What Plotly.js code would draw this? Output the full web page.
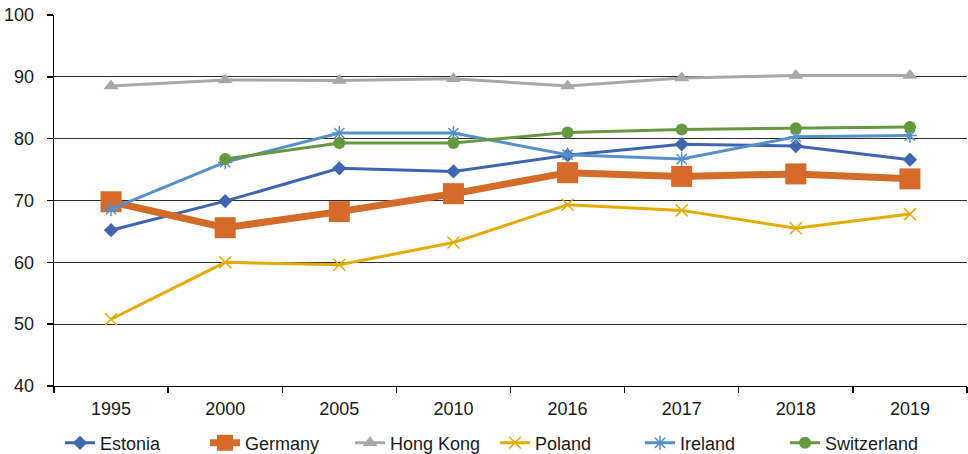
<!DOCTYPE html>
<html>
<head>
<meta charset="utf-8">
<script src="https://cdn.plot.ly/plotly-3.0.1.min.js"></script>
<style>
  html, body { margin: 0; padding: 0; background: #ffffff; }
  #chart { width: 968px; height: 454px; }
</style>
</head>
<body>
<div id="chart"></div>
<script>
// Survey years shown on the category axis
const years = ["1995", "2000", "2005", "2010", "2016", "2017", "2018", "2019"];

// Index values per country
const estonia     = [65.2, 69.9, 75.2, 74.7, 77.3, 79.1, 78.8, 76.6];
const germany     = [69.8, 65.6, 68.2, 71.1, 74.5, 73.9, 74.3, 73.5];
const hongKong    = [88.5, 89.5, 89.4, 89.7, 88.5, 89.8, 90.2, 90.2];
const poland      = [50.8, 60.0, 59.6, 63.2, 69.3, 68.4, 65.5, 67.8];
const ireland     = [68.6, 76.2, 80.9, 80.9, 77.4, 76.7, 80.3, 80.5];
const switzerland = [null, 76.7, 79.3, 79.3, 81.0, 81.5, 81.7, 81.9];

const FONT = "Liberation Sans, Arial, sans-serif";
const TEXT = "#1a1a1a";

function series(name, y, color, width, symbol, size, open) {
  const marker = { symbol: symbol, size: size, color: color };
  if (open) marker.line = { color: color, width: 1.5 };
  return {
    type: "scatter",
    mode: "lines+markers",
    name: name,
    x: years,
    y: y,
    line: { color: color, width: width },
    marker: marker,
    connectgaps: false
  };
}

const data = [
  series("Estonia",     estonia,     "#3f65b0", 3, "diamond",       11, false),
  series("Germany",     germany,     "#d46b28", 7, "square",        21, false),
  series("Hong Kong",   hongKong,    "#a8a8a8", 3, "triangle-up",   13, false),
  series("Poland",      poland,      "#e5ab00", 3, "x-thin-open",   12, true),
  series("Ireland",     ireland,     "#5590ca", 3, "asterisk-open", 12, true),
  series("Switzerland", switzerland, "#64993f", 3, "circle",        12, false)
];

const layout = {
  width: 968,
  height: 454,
  margin: { l: 54, r: 1, t: 15, b: 68, autoexpand: false },
  paper_bgcolor: "#ffffff",
  plot_bgcolor: "#ffffff",
  font: { family: FONT, size: 18, color: TEXT },
  showlegend: true,
  legend: {
    orientation: "h",
    xref: "container",
    yref: "container",
    x: 0.062,
    xanchor: "left",
    y: 0.024,
    yanchor: "middle",
    font: { family: FONT, size: 18, color: TEXT },
    traceorder: "normal",
    entrywidthmode: "pixels",
    entrywidth: 100,
    itemwidth: 30
  },
  xaxis: {
    type: "category",
    range: [-0.5, 7.5],
    showgrid: false,
    showline: true,
    linecolor: "#000000",
    linewidth: 1.4,
    ticks: "outside",
    tickson: "boundaries",
    ticklen: 6,
    tickcolor: "#000000",
    tickwidth: 1.4,
    tickfont: { family: FONT, size: 18, color: TEXT },
    ticklabelstandoff: 6,
    zeroline: false
  },
  yaxis: {
    range: [40, 100],
    dtick: 10,
    tick0: 40,
    showgrid: true,
    gridcolor: "#2e2e2e",
    gridwidth: 1.2,
    showline: true,
    linecolor: "#000000",
    linewidth: 1.4,
    ticks: "outside",
    ticklen: 6,
    tickcolor: "#000000",
    tickwidth: 1.4,
    tickfont: { family: FONT, size: 18, color: TEXT },
    ticklabelstandoff: 9,
    zeroline: false
  }
};

Plotly.newPlot("chart", data, layout, { staticPlot: true, displayModeBar: false });
</script>
</body>
</html>
